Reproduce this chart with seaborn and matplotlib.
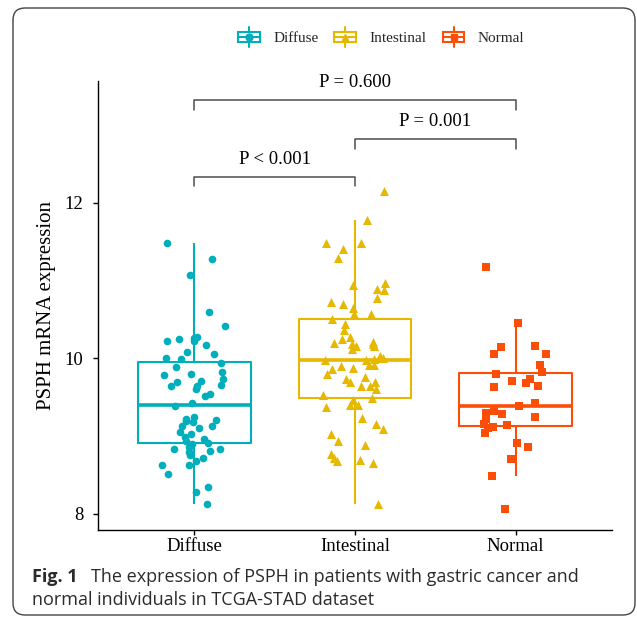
import numpy as np
import pandas as pd
import seaborn as sns
import matplotlib
matplotlib.use("Agg")
import matplotlib.pyplot as plt
from matplotlib.lines import Line2D
from matplotlib.patches import Rectangle, FancyBboxPatch
from matplotlib.legend_handler import HandlerBase
from matplotlib.transforms import Affine2D

# ---------------- data ----------------
categories = ["Diffuse", "Intestinal", "Normal"]
colors = ["#00AFBB", "#E7B800", "#FC4E07"]
markers = ["o", "^", "s"]

diffuse = [11.49, 11.28, 11.07, 10.59, 10.41, 10.28, 10.22, 10.22, 10.25, 10.26,
           10.17, 10.06, 10.08, 10.01, 9.99, 9.94, 9.89, 9.80, 9.82, 9.78,
           9.71, 9.74, 9.69, 9.65, 9.66, 9.64, 9.60, 9.54, 9.51, 9.42,
           9.38, 9.24, 9.22, 9.18, 9.19, 9.20, 9.13, 9.13, 9.10, 9.05,
           9.02, 8.99, 8.96, 8.93, 8.90, 8.91, 8.86, 8.83, 8.83, 8.81,
           8.79, 8.76, 8.72, 8.68, 8.63, 8.63, 8.51, 8.34, 8.28, 8.12]

intestinal = [12.15, 11.78, 11.49, 11.41, 11.48, 11.29, 10.97, 10.88, 10.89, 10.94,
              10.78, 10.73, 10.70, 10.65, 10.57, 10.57, 10.50, 10.44, 10.36, 10.25,
              10.20, 10.28, 10.18, 10.21, 10.16, 10.16, 10.12, 10.18, 10.03, 9.98,
              9.99, 10.01, 9.98, 10.00, 9.90, 9.88, 9.92, 9.92, 9.86, 9.76,
              9.80, 9.73, 9.69, 9.69, 9.64, 9.64, 9.61, 9.49, 9.53, 9.40,
              9.46, 9.37, 9.40, 9.23, 9.15, 9.09, 9.02, 8.94, 8.88, 8.77,
              8.68, 8.69, 8.72, 8.65, 8.13]

normal = [11.18, 10.46, 10.16, 10.06, 10.15, 10.05, 9.92, 9.82, 9.80, 9.71,
          9.73, 9.64, 9.63, 9.68, 9.42, 9.38, 9.32, 9.29, 9.28, 9.25,
          9.22, 9.16, 9.14, 9.10, 9.11, 9.04, 8.91, 8.86, 8.70, 8.49, 8.06]

comparisons = [("Diffuse", "Normal", "P = 0.600"),
               ("Intestinal", "Normal", "P = 0.001"),
               ("Diffuse", "Intestinal", "P < 0.001")]
bracket_y = [13.32, 12.82, 12.34]
y_ticks = [8, 10, 12]

caption_bold = "Fig. 1"
caption_line1 = "The expression of PSPH in patients with gastric cancer and"
caption_line2 = "normal individuals in TCGA-STAD dataset"

# ---------------- style ----------------
sns.set_style("ticks")
plt.rcParams["font.family"] = ["Liberation Serif", "DejaVu Serif"]

W, H = 637, 618
fig = plt.figure(figsize=(W / 100, H / 100), dpi=100)
ax = fig.add_axes([98 / W, 1 - 530 / H, (612 - 98) / W, (530 - 81) / H])

df = pd.DataFrame({
    "group": ["Diffuse"] * len(diffuse) + ["Intestinal"] * len(intestinal) + ["Normal"] * len(normal),
    "value": diffuse + intestinal + normal,
})

sns.boxplot(data=df, x="group", y="value", hue="group", order=categories,
            hue_order=categories, palette=colors, fill=False, width=0.7,
            showfliers=False, showcaps=False, linewidth=1.5,
            medianprops={"linewidth": 2.6}, legend=False, ax=ax)

np.random.seed(7)
sizes = {"o": 5.5, "^": 6.5, "s": 5.5}
for cat, col, mk in zip(categories, colors, markers):
    sub = df[df["group"] == cat]
    sns.stripplot(data=sub, x="group", y="value", order=categories, color=col,
                  marker=mk, size=sizes[mk], jitter=0.2, linewidth=0, ax=ax, zorder=3)

ax.set_xlim(-0.6, 2.6)
ax.set_ylim(7.79, 13.57)
ax.set_yticks(y_ticks)
ax.set_xlabel("")
ax.set_ylabel("PSPH mRNA expression", fontsize=15, labelpad=6, color="black")
sns.despine(ax=ax)
for s in ["left", "bottom"]:
    ax.spines[s].set_linewidth(1.0)
    ax.spines[s].set_color("black")
ax.tick_params(axis="both", length=3.6, width=1.0, color="black",
               labelsize=13.5, labelcolor="black")
ax.tick_params(axis="x", pad=2)
ax.tick_params(axis="y", pad=7)
for lab in ax.get_xticklabels() + ax.get_yticklabels():
    lab.set_fontfamily(["Liberation Serif", "DejaVu Serif"])

# significance brackets
for (a, b, txt), yb in zip(comparisons, bracket_y):
    xa, xb = categories.index(a), categories.index(b)
    ax.plot([xa, xa, xb, xb], [yb - 0.12, yb, yb, yb - 0.12],
            color="#4D4D4D", lw=1.1, clip_on=False)
    ax.text((xa + xb) / 2, yb + 0.225, txt, ha="center", va="center",
            fontsize=13.5, color="black")


# legend with boxplot-like keys
class BoxKey(HandlerBase):
    def create_artists(self, legend, orig, xd, yd, w, h, fs, trans):
        c = orig.get_color()
        m = orig.get_marker()
        x0, y0 = -xd, -yd
        cx, cy = x0 + w / 2, y0 + h / 2
        bw, bh = w * 0.95, h * 0.52
        rect = Rectangle((cx - bw / 2, cy - bh / 2), bw, bh, fill=False,
                         ec=c, lw=1.5, transform=trans)
        med = Line2D([cx - bw / 2, cx + bw / 2], [cy, cy], color=c, lw=1.5, transform=trans)
        w1 = Line2D([cx, cx], [cy + bh / 2, y0 + h], color=c, lw=1.5, transform=trans)
        w2 = Line2D([cx, cx], [y0, cy - bh / 2], color=c, lw=1.5, transform=trans)
        pt = Line2D([cx], [cy], marker=m, color=c, ms=5, ls="", transform=trans)
        return [rect, med, w1, w2, pt]


handles = [Line2D([], [], color=c, marker=m) for c, m in zip(colors, markers)]
fig.legend(handles, categories, handler_map={Line2D: BoxKey()}, loc="center",
           bbox_to_anchor=(381 / W, 1 - 36.7 / H), ncol=3, frameon=False,
           fontsize=11, handlelength=1.5, handleheight=1.6,
           handletextpad=0.85, columnspacing=1.0)

# caption and frame (pixel coordinates)
tr = Affine2D().scale(1 / W, 1 / H) + fig.transFigure
cap_kw = dict(transform=tr, family=["Open Sans", "DejaVu Sans"], fontsize=13,
              va="baseline", ha="left", color="#2B2B2B")
fig.text(32, H - 581.7, caption_bold, weight="bold", **cap_kw)
fig.text(91, H - 581.7, caption_line1, **cap_kw)
fig.text(32, H - 605, caption_line2, **cap_kw)

frame = FancyBboxPatch((13, H - 615), 622, 607,
                       boxstyle="round,pad=0,rounding_size=12", transform=tr,
                       fill=False, ec="#444444", lw=1.0)
fig.add_artist(frame)

fig.savefig("out.png", dpi=100)
